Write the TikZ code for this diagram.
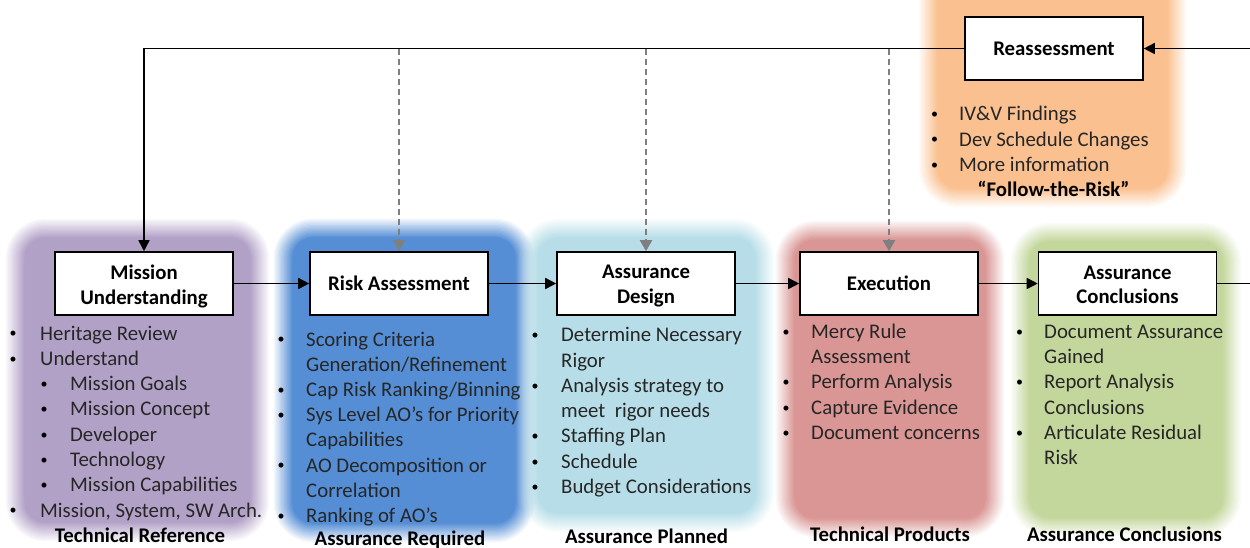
\documentclass[tikz,border=0pt]{standalone}
\usepackage{fontspec}
\setmainfont{Carlito}
\usetikzlibrary{arrows.meta}

\definecolor{txt}{HTML}{262626}
\definecolor{cPurple}{HTML}{B2A1C7}
\definecolor{cBlue}{HTML}{558ED5}
\definecolor{cLightBlue}{HTML}{B7DEE8}
\definecolor{cRed}{HTML}{D99694}
\definecolor{cGreen}{HTML}{C3D69B}
\definecolor{cOrange}{HTML}{FAC090}
\definecolor{dashgray}{HTML}{7F7F7F}

% soft-edged rounded panel: colour, x1, y1, x2, y2 (edges at half intensity)
\newcommand\softpanel[5]{%
  \foreach \k in {1,...,16}{%
    \pgfmathsetmacro\dd{(8.5-\k)*1.25}%
    \pgfmathsetmacro\op{1/(17-\k)}%
    \pgfmathsetmacro\rr{30+\dd}%
    \fill[#1, fill opacity=\op, rounded corners=\rr pt]
      ({#2-(\dd)},{#3-(\dd)}) rectangle ({#4+(\dd)},{#5+(\dd)});
  }}

% small list bullet
\newcommand\dotmark{\raisebox{2.2pt}{\fontsize{14}{14}\selectfont\textbullet}}
% bulleted line: name, bullet x, text x, baseline y, text
\newcommand\pitem[5]{%
  \node[bul] (#1b) at (#2,#4) {\dotmark};
  \node[itm] (#1) at (#3,#4) {#5};}
% continuation line: name, text x, baseline y, text
\newcommand\pcont[4]{\node[itm] (#1) at (#2,#3) {#4};}

\tikzset{
  fnt/.style={font={\fontsize{20.8}{24.5}\selectfont}},
  stepbox/.style={draw=black, line width=1.6pt, fill=white,
    font={\fontsize{20.8}{24.5}\selectfont\bfseries}, align=center,
    minimum width=178pt, minimum height=63pt, inner sep=0pt},
  bul/.style={text=black, anchor=base, inner sep=0pt},
  itm/.style={fnt, text=txt, anchor=base west, inner sep=0pt},
  lbl/.style={font={\fontsize{20.8}{24.5}\selectfont\bfseries}, text=black,
    anchor=base, inner sep=0pt},
  conn/.style={draw=black, line width=1.6pt,
    -{Triangle[length=11pt,width=11pt]}},
  plain/.style={draw=black, line width=1.6pt},
  dconn/.style={draw=dashgray, line width=2pt, dash pattern=on 6pt off 4pt,
    -{Triangle[length=11pt,width=12pt,fill=dashgray]}},
}

\begin{document}
\begin{tikzpicture}[x=1pt, y=-1pt]
\useasboundingbox (0,0) rectangle (1250,547);

% coloured phase panels
\softpanel{cPurple}{15}{228}{260}{532}
\softpanel{cBlue}{283}{228}{525}{533}
\softpanel{cLightBlue}{528}{228}{765}{523}
\softpanel{cRed}{785}{230}{995}{528}
\softpanel{cGreen}{1020}{232}{1232}{527}
\softpanel{cOrange}{928}{-40}{1177}{198}

% process steps
\node[stepbox] (mu) at (144,283.5) {\rule{0pt}{21pt}Mission\\Understanding};
\node[stepbox] (ra) at (399,283.5) {Risk Assessment};
\node[stepbox] (ad) at (646,283.5) {\rule{0pt}{18.6pt}Assurance\\Design};
\node[stepbox] (ex) at (889,283.5) {Execution};
\node[stepbox] (ac) at (1127.5,283.5) {\rule{0pt}{16.1pt}Assurance\\Conclusions};
\node[stepbox] (re) at (1054,48.5) {Reassessment};

\coordinate (outR) at (1252,283.5);
\coordinate (inR) at (1252,48.5);

% flow
\draw[conn] (mu) -- (ra);
\draw[conn] (ra) -- (ad);
\draw[conn] (ad) -- (ex);
\draw[conn] (ex) -- (ac);
\draw[plain] (ac) -- (outR);
\draw[conn] (inR) -- (re);
\draw[conn] (re.west) -| (mu.north);
\draw[dconn] (ra.north |- re.west) -- (ra.north);
\draw[dconn] (ad.north |- re.west) -- (ad.north);
\draw[dconn] (ex.north |- re.west) -- (ex.north);

% Mission Understanding
\pitem{mu1}{13}{40}{340}{Heritage Review}
\pitem{mu2}{13}{40}{365.3}{Understand}
\pitem{mu3}{44}{70}{390.6}{Mission Goals}
\pitem{mu4}{44}{70}{415.9}{Mission Concept}
\pitem{mu5}{44}{70}{441.2}{Developer}
\pitem{mu6}{44}{70}{466.5}{Technology}
\pitem{mu7}{44}{70}{491.8}{Mission Capabilities}
\pitem{mu8}{13}{40}{517.1}{Mission, System, SW Arch.}
\node[lbl] (muL) at (140,542) {Technical Reference};

% Risk Assessment
\pitem{ra1}{281}{306}{346}{Scoring Criteria}
\pcont{ra1c}{306}{371.2}{Generation/Refinement}
\pitem{ra2}{281}{306}{396.4}{Cap Risk Ranking/Binning}
\pitem{ra3}{281}{306}{421.6}{Sys Level AO’s for Priority}
\pcont{ra3c}{306}{446.8}{Capabilities}
\pitem{ra4}{281}{306}{472}{AO Decomposition or}
\pcont{ra4c}{306}{497.2}{Correlation}
\pitem{ra5}{281}{306}{522.4}{Ranking of AO’s}
\node[lbl] (raL) at (400,545) {Assurance Required};

% Assurance Design
\pitem{ad1}{535}{561}{341.7}{Determine Necessary}
\pcont{ad1c}{561}{367}{Rigor}
\pitem{ad2}{535}{561}{392.3}{Analysis strategy to}
\pcont{ad2c}{561}{417.6}{meet~~rigor needs}
\pitem{ad3}{535}{561}{442.9}{Staffing Plan}
\pitem{ad4}{535}{561}{468.2}{Schedule}
\pitem{ad5}{535}{561}{493.5}{Budget Considerations}
\node[lbl] (adL) at (646.5,543.5) {Assurance Planned};

% Execution
\pitem{ex1}{786}{811}{338.3}{Mercy Rule}
\pcont{ex1c}{811}{363.6}{Assessment}
\pitem{ex2}{786}{811}{388.9}{Perform Analysis}
\pitem{ex3}{786}{811}{414.2}{Capture Evidence}
\pitem{ex4}{786}{811}{439.5}{Document concerns}
\node[lbl] (exL) at (890,541) {Technical Products};

% Assurance Conclusions
\pitem{ac1}{1019.5}{1044}{338.3}{Document Assurance}
\pcont{ac1c}{1044}{363.6}{Gained}
\pitem{ac2}{1019.5}{1044}{388.9}{Report Analysis}
\pcont{ac2c}{1044}{414.2}{Conclusions}
\pitem{ac3}{1019.5}{1044}{439.5}{Articulate Residual}
\pcont{ac3c}{1044}{464.8}{Risk}
\node[lbl] (acL) at (1124.5,541) {Assurance Conclusions};

% Reassessment
\pitem{re1}{934.5}{959}{120.7}{IV\&V Findings}
\pitem{re2}{934.5}{959}{146}{Dev Schedule Changes}
\pitem{re3}{934.5}{959}{171.3}{More information}
\node[lbl] (reL) at (1053.5,196) {“Follow-the-Risk”};
\end{tikzpicture}
\end{document}
